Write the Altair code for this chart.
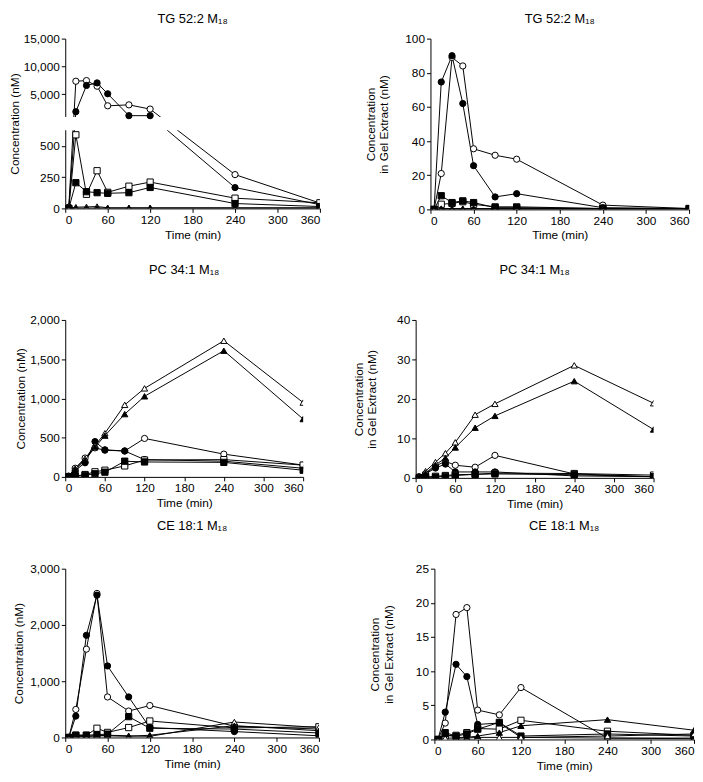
import altair as alt
import pandas as pd

TIMES = [5, 15, 30, 45, 60, 90, 120, 240, 360]
SERIES = ["open circle", "filled circle", "open square", "filled square", "open triangle", "filled triangle"]
SHAPES = ["circle", "circle", "square", "square", "triangle-up", "triangle-up"]
FILLS = ["white", "black", "white", "black", "white", "black"]
X_TICKS = [0, 60, 120, 180, 240, 300, 360]

# TG 52:2 M18 - plasma concentration (nM)
TG_CONC_OPEN_CIRCLE = [10, 7350, 7470, 6460, 2940, 3110, 2350, 271, 43]
TG_CONC_FILLED_CIRCLE = [5, 1880, 6590, 7050, 5100, 1170, 1170, 167, 30]
TG_CONC_OPEN_SQUARE = [0, 590, 113, 302, 129, 178, 211, 82, 45]
TG_CONC_FILLED_SQUARE = [0, 206, 134, 126, 121, 126, 168, 39, 15]
TG_CONC_OPEN_TRIANGLE = [0, 10, 12, 15, 5, 5, 5, 5, 5]
TG_CONC_FILLED_TRIANGLE = [0, 2, 2, 3, 2, 2, 2, 2, 2]
# broken axis of the TG concentration panel: lower segment 0-625, upper 1,000-15,000
TG_CONC_BREAK = [0, 625, 1000, 15000]
TG_CONC_TICKS = [0, 250, 500, 5000, 10000, 15000]

# TG 52:2 M18 - gel extract (nM)
TG_GEL_OPEN_CIRCLE = [0, 21, 89, 84, 35.5, 31.7, 29.4, 2.5, 0.5]
TG_GEL_FILLED_CIRCLE = [0, 74.6, 90, 62, 25.6, 7.3, 9.2, 1, 0.5]
TG_GEL_OPEN_SQUARE = [0, 3, 3.5, 4.5, 3, 1.5, 1.5, 0.5, 0.5]
TG_GEL_FILLED_SQUARE = [0, 8, 4, 5, 4, 1, 1, 0.5, 0.5]
TG_GEL_OPEN_TRIANGLE = [0, 0.5, 0.5, 0.5, 0.5, 0.5, 0.5, 0.5, 0.5]
TG_GEL_FILLED_TRIANGLE = [0, 0.2, 0.2, 0.2, 0.2, 0.2, 0.2, 0.2, 0.2]

# PC 34:1 M18 - plasma concentration (nM)
PC_CONC_OPEN_CIRCLE = [10, 110, 240, 370, 340, 330, 490, 290, 150]
PC_CONC_FILLED_CIRCLE = [5, 80, 180, 450, 345, 330, 220, 200, 110]
PC_CONC_OPEN_SQUARE = [0, 10, 30, 65, 85, 140, 215, 220, 150]
PC_CONC_FILLED_SQUARE = [0, 5, 20, 40, 60, 200, 190, 185, 85]
PC_CONC_OPEN_TRIANGLE = [10, 105, 232, 400, 556, 918, 1128, 1735, 947]
PC_CONC_FILLED_TRIANGLE = [5, 90, 210, 379, 526, 800, 1027, 1608, 737]

# PC 34:1 M18 - gel extract (nM)
PC_GEL_OPEN_CIRCLE = [0.3, 1, 3, 4.2, 3.2, 2.7, 5.7, 1, 0.3]
PC_GEL_FILLED_CIRCLE = [0.2, 1, 2.5, 3.5, 1.5, 1.5, 1.5, 0.5, 0.3]
PC_GEL_OPEN_SQUARE = [0, 0.2, 0.4, 0.6, 0.8, 0.9, 1.2, 1.1, 0.7]
PC_GEL_FILLED_SQUARE = [0, 0.1, 0.2, 0.4, 0.6, 0.9, 1.0, 0.8, 0.3]
PC_GEL_OPEN_TRIANGLE = [0.3, 1.7, 4, 6.25, 9, 16, 18.75, 28.5, 18.9]
PC_GEL_FILLED_TRIANGLE = [0.2, 1.2, 3.3, 5, 7.7, 12.7, 15.7, 24.5, 12.25]

# CE 18:1 M18 - plasma concentration (nM)
CE_CONC_OPEN_CIRCLE = [0, 498, 1570, 2560, 720, 470, 568, 200, 150]
CE_CONC_FILLED_CIRCLE = [0, 380, 1816, 2530, 1271, 720, 176, 105, 30]
CE_CONC_OPEN_SQUARE = [0, 40, 40, 164, 90, 176, 293, 170, 190]
CE_CONC_FILLED_SQUARE = [0, 40, 40, 50, 60, 370, 164, 150, 80]
CE_CONC_OPEN_TRIANGLE = [0, 30, 20, 30, 40, 30, 20, 275, 176]
CE_CONC_FILLED_TRIANGLE = [0, 20, 20, 30, 30, 20, 40, 210, 120]

# CE 18:1 M18 - gel extract (nM)
CE_GEL_OPEN_CIRCLE = [0, 2.4, 18.3, 19.3, 4.3, 3.6, 7.6, 0.2, 0.2]
CE_GEL_FILLED_CIRCLE = [0, 4.0, 11.0, 9.2, 2.2, 2.4, 0.3, 0.2, 0.1]
CE_GEL_OPEN_SQUARE = [0, 0.5, 0.6, 1.0, 1.6, 1.5, 2.8, 1.2, 0.6]
CE_GEL_FILLED_SQUARE = [0, 1.0, 0.5, 0.8, 1.5, 2.5, 0.5, 0.8, 0.5]
CE_GEL_OPEN_TRIANGLE = [0, 0.2, 0.2, 0.2, 0.3, 0.3, 0.3, 0.5, 0.8]
CE_GEL_FILLED_TRIANGLE = [0, 0.8, 0.3, 0.3, 0.5, 1.0, 2.0, 2.9, 1.35]

FONT = "Liberation Sans"
CONC_TITLE = "Concentration (nM)"
GEL_TITLE = ["Concentration", "in Gel Extract (nM)"]


def make_df(*lists):
    rows = []
    for name, vals in zip(SERIES, lists):
        for t, v in zip(TIMES, vals):
            rows.append({"t": t, "v": v, "s": name})
    return pd.DataFrame(rows)


def panel(df, yscale, yticks, ytitle, w, h, title_pad=4, gap=None):
    x_axis = alt.Axis(values=X_TICKS, title="Time (min)")
    y_axis = alt.Axis(values=yticks, format=",.0f", title=ytitle, titlePadding=title_pad)
    x = alt.X("t:Q", scale=alt.Scale(domain=[0, 360], nice=False), axis=x_axis)
    y = alt.Y("v:Q", scale=yscale, axis=y_axis)
    base = alt.Chart(df)
    line = base.mark_line(color="black", strokeWidth=1, clip=True).encode(
        x=x, y=y, detail="s:N")
    pts = base.mark_point(filled=True, stroke="black", strokeWidth=1, size=40,
                          opacity=1, clip=True).encode(
        x=x, y=y,
        shape=alt.Shape("s:N", scale=alt.Scale(domain=SERIES, range=SHAPES), legend=None),
        fill=alt.Fill("s:N", scale=alt.Scale(domain=SERIES, range=FILLS), legend=None),
    )
    layers = [line]
    if gap is not None:
        # white band that breaks the axis line and the curves between the two segments
        gdf = pd.DataFrame({"v": [gap[0]], "hi": [gap[1]]})
        mask = alt.Chart(gdf).mark_rect(color="white").encode(
            y=alt.Y("v:Q", scale=yscale, axis=y_axis),
            y2="hi:Q",
            x=alt.value(-4),
            x2=alt.value(w + 4),
        )
        layers.append(mask)
    layers.append(pts)
    return alt.layer(*layers).properties(width=w, height=h)


def ttl(text, offset):
    return alt.TitleParams(text=text, fontSize=13, font=FONT, fontWeight="normal",
                           anchor="middle", offset=offset, color="black")


def lin(lo, hi):
    return alt.Scale(domain=[lo, hi], nice=False, zero=False)


tg_conc = make_df(TG_CONC_OPEN_CIRCLE, TG_CONC_FILLED_CIRCLE, TG_CONC_OPEN_SQUARE,
                  TG_CONC_FILLED_SQUARE, TG_CONC_OPEN_TRIANGLE, TG_CONC_FILLED_TRIANGLE)
tg_gel = make_df(TG_GEL_OPEN_CIRCLE, TG_GEL_FILLED_CIRCLE, TG_GEL_OPEN_SQUARE,
                 TG_GEL_FILLED_SQUARE, TG_GEL_OPEN_TRIANGLE, TG_GEL_FILLED_TRIANGLE)
pc_conc = make_df(PC_CONC_OPEN_CIRCLE, PC_CONC_FILLED_CIRCLE, PC_CONC_OPEN_SQUARE,
                  PC_CONC_FILLED_SQUARE, PC_CONC_OPEN_TRIANGLE, PC_CONC_FILLED_TRIANGLE)
pc_gel = make_df(PC_GEL_OPEN_CIRCLE, PC_GEL_FILLED_CIRCLE, PC_GEL_OPEN_SQUARE,
                 PC_GEL_FILLED_SQUARE, PC_GEL_OPEN_TRIANGLE, PC_GEL_FILLED_TRIANGLE)
ce_conc = make_df(CE_CONC_OPEN_CIRCLE, CE_CONC_FILLED_CIRCLE, CE_CONC_OPEN_SQUARE,
                  CE_CONC_FILLED_SQUARE, CE_CONC_OPEN_TRIANGLE, CE_CONC_FILLED_TRIANGLE)
ce_gel = make_df(CE_GEL_OPEN_CIRCLE, CE_GEL_FILLED_CIRCLE, CE_GEL_OPEN_SQUARE,
                 CE_GEL_FILLED_SQUARE, CE_GEL_OPEN_TRIANGLE, CE_GEL_FILLED_TRIANGLE)

# Top-left: piecewise (broken) y scale; 14 px gap between 625 and 1,000
TL_H = 172
tg_break_scale = alt.Scale(domain=TG_CONC_BREAK, range=[TL_H, 93, 79, 0], zero=False, nice=False)
top_left = panel(tg_conc, tg_break_scale, TG_CONC_TICKS, CONC_TITLE, 258, TL_H,
                 title_pad=2, gap=[632, 992]).properties(title=ttl("TG 52:2 M₁₈", 7))
top_right = panel(tg_gel, lin(0, 100), [0, 20, 40, 60, 80, 100], GEL_TITLE, 262, 173,
                  title_pad=14).properties(title=ttl("TG 52:2 M₁₈", 7))

mid_left = panel(pc_conc, lin(0, 2000), [0, 500, 1000, 1500, 2000], CONC_TITLE, 241, 159,
                 title_pad=2).properties(title=ttl("PC 34:1 M₁₈", 38))
mid_right = panel(pc_gel, lin(0, 40), [0, 10, 20, 30, 40], GEL_TITLE, 241, 160,
                  title_pad=18).properties(title=ttl("PC 34:1 M₁₈", 38))

bot_left = panel(ce_conc, lin(0, 3000), [0, 1000, 2000, 3000], CONC_TITLE, 257, 171,
                 title_pad=4).properties(title=ttl("CE 18:1 M₁₈", 30))
bot_right = panel(ce_gel, lin(0, 25), [0, 5, 10, 15, 20, 25], GEL_TITLE, 263, 173,
                  title_pad=20).properties(title=ttl("CE 18:1 M₁₈", 30))

row1 = alt.hconcat(top_left, top_right, spacing=40)
row2 = alt.hconcat(mid_left, mid_right, spacing=48)
row3 = alt.hconcat(bot_left, bot_right, spacing=49)

lower_rows = alt.concat(row2, row3, columns=1, spacing=11, align="none")
chart = alt.concat(row1, lower_rows, columns=1, spacing=23, align="none").properties(
    background="white", padding={"top": 0, "left": 0, "right": 0, "bottom": 0}
).configure_view(
    stroke=None
).configure_axis(
    grid=False,
    domainColor="black",
    tickColor="black",
    tickSize=4,
    labelColor="black",
    titleColor="black",
    labelFont=FONT,
    titleFont=FONT,
    labelFontSize=12,
    titleFontSize=12,
    titleFontWeight="normal",
    labelPadding=2,
)

chart.save("out.html", embed_options={"renderer": "svg", "actions": False})
